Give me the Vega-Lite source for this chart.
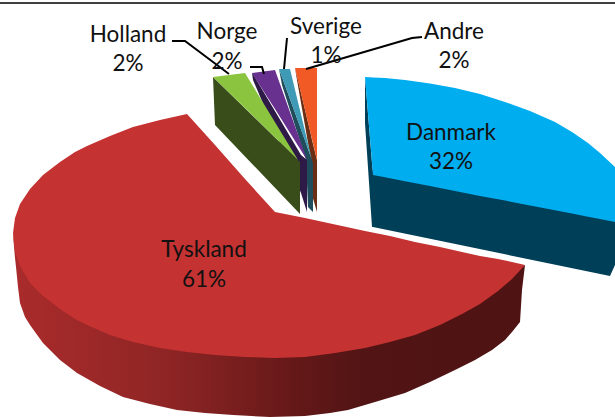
{"$schema":"https://vega.github.io/schema/vega-lite/v6.json","width":615,"height":417,"padding":0,"autosize":{"type":"none"},"background":"#ffffff","view":{"stroke":null},
"datasets":{"frame":[{"x":0,"y":3,"s":"f"},{"x":615,"y":3,"s":"f"}],
"leaders":[{"s":"Holland","o":1,"x":172,"y":41},{"s":"Holland","o":2,"x":185,"y":41},{"s":"Holland","o":3,"x":229,"y":74},{"s":"Norge","o":1,"x":250,"y":67},{"s":"Norge","o":2,"x":262,"y":67},{"s":"Norge","o":3,"x":264,"y":74},{"s":"Sverige","o":1,"x":287,"y":38},{"s":"Sverige","o":2,"x":284,"y":69},{"s":"Andre","o":1,"x":306,"y":69},{"s":"Andre","o":2,"x":412,"y":38},{"s":"Andre","o":3,"x":422,"y":37}],
"labels":[{"t":"Holland","x":128,"y":33},{"t":"2%","x":128,"y":62},{"t":"Norge","x":227,"y":30},{"t":"2%","x":227,"y":60},{"t":"Sverige","x":326,"y":25},{"t":"1%","x":326,"y":54},{"t":"Andre","x":454,"y":30},{"t":"2%","x":454,"y":59},{"t":"Danmark","x":451,"y":131},{"t":"32%","x":451,"y":160},{"t":"Tyskland","x":204,"y":248},{"t":"61%","x":204,"y":278}]},
"encoding":{"x":{"field":"x","type":"quantitative","scale":{"domain":[0,615],"range":[0,615],"nice":false,"zero":false},"axis":null},"y":{"field":"y","type":"quantitative","scale":{"domain":[0,417],"range":[0,417],"nice":false,"zero":false},"axis":null}},
"layer":[
{"data":{"values":[{"x":295,"y":68,"y2":68},{"x":297,"y":76,"y2":80},{"x":311,"y":135,"y2":160},{"x":312,"y":140,"y2":195},{"x":317,"y":160,"y2":212}]},"mark":{"type":"area","color":"#6b2e14","interpolate":"linear","opacity":1},"encoding":{"y2":{"field":"y2"}}},
{"data":{"values":[{"x":295,"y":68,"y2":68},{"x":317,"y":68,"y2":160}]},"mark":{"type":"area","color":"#f15a24","opacity":1},"encoding":{"y2":{"field":"y2"}}},
{"data":{"values":[{"x":279,"y":69,"y2":69},{"x":282,"y":77,"y2":85},{"x":306,"y":143,"y2":160},{"x":308,"y":149,"y2":207},{"x":313,"y":163,"y2":212}]},"mark":{"type":"area","color":"#1f4d5b","opacity":1},"encoding":{"y2":{"field":"y2"}}},
{"data":{"values":[{"x":279,"y":69,"y2":69},{"x":290,"y":69,"y2":99},{"x":312,"y":160,"y2":160}]},"mark":{"type":"area","color":"#3f9bb5","opacity":1},"encoding":{"y2":{"field":"y2"}}},
{"data":{"values":[{"x":252,"y":73,"y2":73},{"x":253,"y":74,"y2":80},{"x":301,"y":155,"y2":193},{"x":307,"y":160,"y2":212}]},"mark":{"type":"area","color":"#2e1a47","opacity":1},"encoding":{"y2":{"field":"y2"}}},
{"data":{"values":[{"x":252,"y":73,"y2":73},{"x":275,"y":70,"y2":109},{"x":307,"y":160,"y2":160}]},"mark":{"type":"area","color":"#68308f","opacity":1},"encoding":{"y2":{"field":"y2"}}},
{"data":{"values":[{"x":213,"y":77,"y2":77},{"x":215,"y":79,"y2":125},{"x":300,"y":162,"y2":214}]},"mark":{"type":"area","color":"#384d19","opacity":1},"encoding":{"y2":{"field":"y2"}}},
{"data":{"values":[{"x":213,"y":77,"y2":77},{"x":245,"y":73,"y2":108},{"x":298,"y":160,"y2":160}]},"mark":{"type":"area","color":"#8bc43f","opacity":1},"encoding":{"y2":{"field":"y2"}}},
{"data":{"values":[{"x":365,"y":77,"y2":123},{"x":372,"y":163,"y2":227},{"x":373,"y":172,"y2":227},{"x":610,"y":218,"y2":276},{"x":615,"y":219,"y2":265}]},"mark":{"type":"area","color":"#003f58","opacity":1},"encoding":{"y2":{"field":"y2"}}},
{"data":{"values":[{"x":365,"y":77,"y2":77},{"x":373,"y":77.5,"y2":175},{"x":385,"y":78,"y2":177.3},{"x":405,"y":80,"y2":181.2},{"x":430,"y":83.5,"y2":186},{"x":455,"y":88,"y2":191},{"x":480,"y":94,"y2":196},{"x":505,"y":102,"y2":200.6},{"x":530,"y":111,"y2":205.5},{"x":555,"y":122,"y2":210.3},{"x":572,"y":132,"y2":213.6},{"x":588,"y":143,"y2":216.7},{"x":600,"y":153,"y2":219},{"x":615,"y":167,"y2":222}]},"mark":{"type":"area","color":"#00adef","opacity":1},"encoding":{"y2":{"field":"y2"}}},
{"data":{"values":[{"x":13,"y":233,"y2":235},{"x":15,"y":246,"y2":258},{"x":16,"y":250,"y2":267},{"x":18,"y":256,"y2":287},{"x":20,"y":262,"y2":303},{"x":25,"y":271,"y2":317},{"x":30,"y":279,"y2":325},{"x":43,"y":292,"y2":343},{"x":60,"y":305,"y2":360},{"x":77,"y":316,"y2":373},{"x":100,"y":327,"y2":386},{"x":123,"y":336,"y2":397},{"x":150,"y":342,"y2":404},{"x":177,"y":347,"y2":410},{"x":205,"y":351,"y2":413},{"x":233,"y":353,"y2":415},{"x":270,"y":355,"y2":417},{"x":305,"y":354,"y2":416},{"x":330,"y":350,"y2":413},{"x":348,"y":347,"y2":410},{"x":375,"y":342,"y2":402},{"x":405,"y":334,"y2":393},{"x":430,"y":325,"y2":382},{"x":455,"y":314,"y2":370},{"x":475,"y":304,"y2":360},{"x":492,"y":293,"y2":350},{"x":505,"y":282,"y2":340},{"x":512,"y":276,"y2":332},{"x":520,"y":268,"y2":322},{"x":522,"y":267,"y2":290},{"x":525,"y":265,"y2":265}]},"mark":{"type":"area","opacity":1,"color":{"gradient":"linear","x1":0,"y1":0,"x2":1,"y2":0,"stops":[{"offset":0,"color":"#aa2b2b"},{"offset":0.3,"color":"#8f2525"},{"offset":0.55,"color":"#651818"},{"offset":0.68,"color":"#521414"},{"offset":1,"color":"#4f1313"}]}},"encoding":{"y2":{"field":"y2"}}},
{"data":{"values":[{"x":13,"y":233,"y2":233},{"x":15,"y":218,"y2":252},{"x":20,"y":204,"y2":266},{"x":30,"y":189,"y2":283},{"x":43,"y":175,"y2":296},{"x":60,"y":162,"y2":309},{"x":75,"y":152,"y2":319},{"x":87,"y":146,"y2":325},{"x":110,"y":136,"y2":335},{"x":133,"y":127,"y2":342},{"x":160,"y":120,"y2":348},{"x":187,"y":114,"y2":352},{"x":215,"y":145,"y2":355},{"x":245,"y":179,"y2":357},{"x":275,"y":212,"y2":358},{"x":305,"y":218,"y2":357},{"x":335,"y":224.4,"y2":353},{"x":365,"y":231,"y2":348},{"x":390,"y":236,"y2":342},{"x":415,"y":242,"y2":335},{"x":440,"y":247,"y2":325},{"x":462,"y":252,"y2":314},{"x":480,"y":256,"y2":304},{"x":498,"y":259,"y2":291},{"x":512,"y":262,"y2":279},{"x":525,"y":265,"y2":265}]},"mark":{"type":"area","color":"#c53232","opacity":1},"encoding":{"y2":{"field":"y2"}}},
{"data":{"name":"frame"},"mark":{"type":"line","color":"#000000","strokeWidth":1.5},"encoding":{"detail":{"field":"s"}}},
{"data":{"name":"leaders"},"mark":{"type":"line","color":"#000000","strokeWidth":2},"encoding":{"detail":{"field":"s"},"order":{"field":"o"}}},
{"data":{"name":"labels"},"mark":{"type":"text","font":"Lato","fontSize":22.5,"color":"#111111","baseline":"middle","align":"center","dy":1.5},"encoding":{"text":{"field":"t"}}}
]}
